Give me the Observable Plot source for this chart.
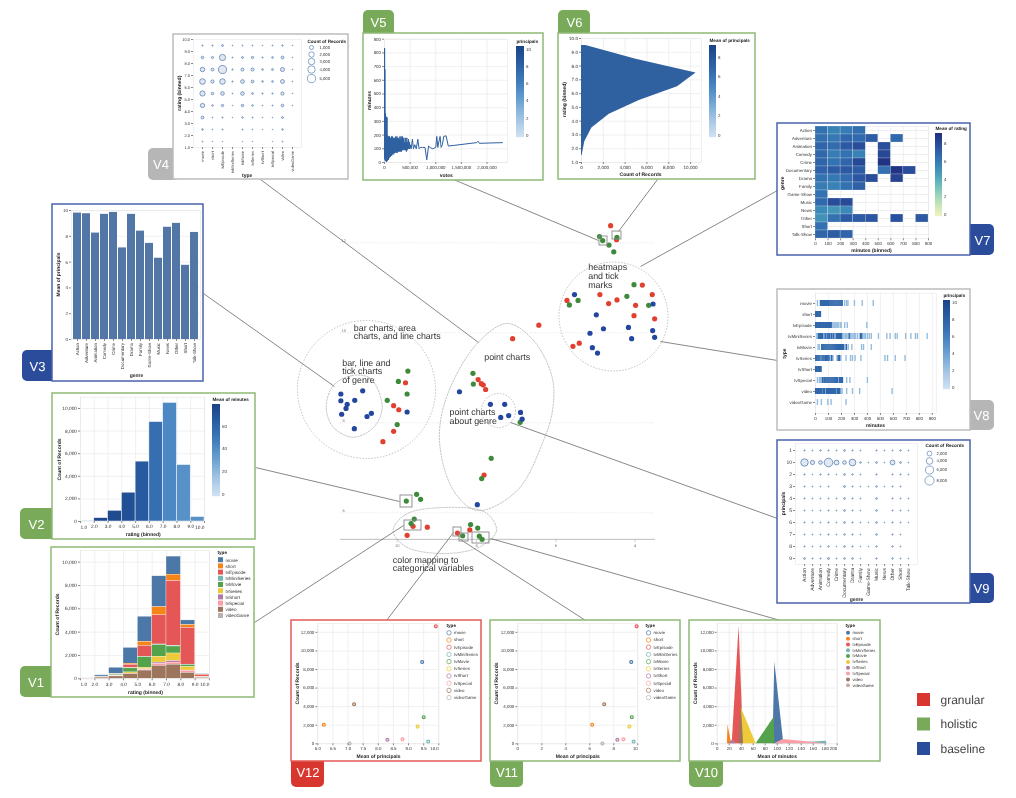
<!DOCTYPE html>
<html><head><meta charset="utf-8">
<script src="https://cdn.jsdelivr.net/npm/d3@7"></script>
<script src="https://cdn.jsdelivr.net/npm/@observablehq/plot@0.6"></script>
<style>
html,body{margin:0;padding:0;background:#fff}
#stage{position:relative;width:1016px;height:798px;overflow:hidden;background:#fff;filter:blur(0.3px)}
#stage svg{position:absolute;max-width:none}
#stage text{text-rendering:geometricPrecision}
</style></head><body><div id="stage"></div>
<script>
// ---------- shared categories ----------
const types = ["movie","short","tvEpisode","tvMiniSeries","tvMovie","tvSeries","tvShort","tvSpecial","video","videoGame"];
const typeColors = ["#4c78a8","#f58518","#e45756","#72b7b2","#54a24b","#eeca3b","#b279a2","#ff9da6","#9d755d","#bab0ac"];
const genres = ["Action","Adventure","Animation","Comedy","Crime","Documentary","Drama","Family","Game-Show","Music","News","Other","Short","Talk-Show"];
const ratingBins = [1.5,2.5,3.5,4.5,5.5,6.5,7.5,8.5,9.5];

// ---------- centre projection (x and y are the projected coordinates) ----------
const redX = [4.62,4.47,5.72,3.82,4.89,3.57,4.67,4.46,3.99,4.03,3.51,5.57,5.41,6.43,7.09,9.79,10.09,9.96,10.09,10.36,7.96,7.88,7.83,7.77,7.81,9.60,9.24,9.75,8.48,8.17];
const redY = [12.38,12.07,10.72,11.06,10.85,10.85,10.65,10.73,10.61,10.38,10.31,9.70,9.77,10.17,9.87,8.89,8.38,8.29,7.81,7.58,8.96,8.87,8.84,8.74,6.84,5.70,5.68,5.50,5.55,5.62];
const greenX = [4.90,4.82,4.46,4.66,4.54,4.03,5.44,5.66,4.21,3.66,8.09,8.08,9.73,9.97,9.75,10.25,10.0,6.90,7.63,7.87,9.51,9.41,9.77,9.57,9.65,8.35,8.15,7.97,7.93,7.86];
const greenY = [12.14,12.05,12.12,11.95,11.80,11.07,10.72,10.62,10.81,10.61,9.10,8.86,9.15,8.92,8.64,8.50,7.96,8.01,7.21,6.76,6.41,6.30,6.26,5.86,5.76,5.49,5.74,5.66,5.48,5.41];
const blueX = [5.53,3.55,4.98,4.80,5.14,4.17,3.56,4.09,3.51,5.08,4.95,8.43,7.65,7.29,6.89,6.85,7.39,7.19,11.42,11.42,11.26,11.29,11.07,10.87,11.40,10.76,10.65,11.08,9.75,7.98];
const blueY = [10.85,10.64,10.40,10.09,9.99,10.12,10.05,9.87,9.90,9.67,9.55,8.69,8.41,8.41,8.23,8.08,8.12,8.16,8.64,8.49,8.41,8.32,8.50,8.71,8.19,8.14,8.21,7.87,8.24,6.18];

// ---------- counts by rating bin (rows) and type (columns) ----------
const ratingType = {
  1.5:[15,2,2,0,2,1,0,1,15,0],
  2.5:[110,8,40,0,30,10,1,2,100,0],
  3.5:[550,15,40,3,100,30,3,5,200,0],
  4.5:[1350,100,300,6,350,100,10,30,400,3],
  5.5:[2150,350,950,15,900,150,50,50,700,6],
  6.5:[2650,700,2500,50,1000,500,130,150,1100,10],
  7.5:[1550,550,5550,60,600,650,130,180,1200,8],
  8.5:[390,250,3150,30,180,300,50,150,500,5],
  9.5:[40,40,180,8,20,20,6,20,70,4]
};
const ratingTotals = [60,300,950,2550,5300,8800,10500,5000,400];
const ratingMinutes = [36,76,75,72,66,55,43,39,39];

// ---------- V3 ----------
const genrePrincipals = [9.8,9.75,8.25,9.7,9.85,7.1,9.7,8.4,7.45,6.3,8.7,9,5.75,8.3];

// ---------- V5: votes (thousands), minutes ----------
const votesMinutes = [[0,110],[2,835],[4,30],[7,680],[10,20],[13,360],[16,10],[19,350],[22,20],[25,340],[28,10],[31,330],[34,20],[37,200],[40,5],[43,190],[46,20],[49,330],[52,10],[55,200],[58,30],[61,190],[64,20],[67,180],[70,30],[73,190],[76,20],[79,170],[82,40],[85,190],[88,30],[91,170],[94,40],[97,190],[100,40],[104,180],[108,50],[112,170],[116,40],[120,180],[124,50],[128,170],[132,60],[136,190],[140,50],[145,170],[150,60],[155,190],[160,60],[165,170],[170,70],[175,180],[180,60],[185,170],[190,70],[195,180],[200,70],[206,170],[212,80],[218,190],[224,70],[230,170],[236,80],[242,190],[248,70],[254,180],[260,80],[266,170],[272,80],[278,180],[284,90],[290,170],[296,80],[302,190],[308,80],[314,170],[320,90],[326,190],[332,80],[338,160],[344,90],[350,190],[356,90],[362,160],[368,100],[374,180],[380,90],[388,150],[396,90],[404,180],[412,90],[420,150],[428,80],[436,180],[444,90],[452,150],[460,100],[468,170],[476,100],[484,150],[492,100],[500,130],[520,100],[545,170],[565,100],[590,130],[620,100],[650,170],[675,100],[700,110],[740,110],[790,110],[825,20],[860,120],[890,110],[940,100],[1000,110],[1020,190],[1040,110],[1060,150],[1085,190],[1105,110],[1130,130],[1155,190],[1200,195],[1245,120],[1800,145],[1825,155],[1850,140],[2300,145]];

// ---------- V7: genre -> [bin start, mean rating] ----------
const genreMinutes = {
  "Action":[[0,6.5],[100,5.8],[200,6.0],[300,6.6]],
  "Adventure":[[0,6.6],[100,6.2],[200,6.9],[300,6.8],[400,7.3],[600,6.8]],
  "Animation":[[0,7],[100,6.7],[200,7.5],[300,8],[500,7.9]],
  "Comedy":[[0,6.9],[100,6.0],[200,6.5],[300,5.8],[500,8.2]],
  "Crime":[[0,7],[100,6.4],[200,7],[300,8.2],[500,9]],
  "Documentary":[[0,7.1],[100,7.4],[200,7.5],[300,7.4],[500,6.5],[600,9],[700,8]],
  "Drama":[[0,6.4],[100,6.2],[200,6.7],[300,7.6],[400,8],[600,8.4]],
  "Family":[[0,6],[100,5.8],[200,6.5],[300,7.2]],
  "Game-Show":[[0,6.4]],
  "Music":[[0,6.8],[100,8],[200,8.1]],
  "News":[[0,5.5],[100,5],[200,5.5]],
  "Other":[[0,5.2],[100,6.5],[200,7.4],[300,7.4],[400,7.6],[600,7.8],[800,7.5]],
  "Short":[[0,6.5]],
  "Talk-Show":[[0,7],[100,7.4],[200,7]]
};

// ---------- V8: minutes of tick marks per type, strong and faint ----------
const ticksStrong = {
  movie:[38,46,54,62,70,78,86,94,102,110,118,126,134,142,150,158,166,174,182,190,198,206],
  short:[2,8,14,20,26,32,38],
  tvEpisode:[1,7,13,19,25,31,37,43,49,55,61,67,73,79,85,91,97,103,109,115,121],
  tvMiniSeries:[22,30,38,46,54,75,90,98,110,125,140,160,168,176,184,192,200,260,345,355],
  tvMovie:[48,56,64,72,80,88,96,104,112,120,128,136,144,152,160,168,176,184,192,200,208,216,238],
  tvSeries:[2,10,18,26,34,50,58,66,78,84,90,96,104,125,175,185],
  tvShort:[1,7,13,19,25,31,37,43],
  tvSpecial:[55,65,72,80,88,96,104,112,120,128,136,144,152,160,168,185,192,200,208],
  video:[1,8,16,24,32,40,48,60,68,84,92,100,108,116,124,132,140,148,156,170,178,186],
  videoGame:[]
};
const ticksFaint = {
  movie:[15,225,240,250,300,360,445],
  short:[],
  tvEpisode:[127,135,143,151,159,167,175,190,198,225,245,395],
  tvMiniSeries:[10,62,68,82,105,118,132,150,210,220,230,240,250,270,280,290,300,310,325,365,375,385,400,415,430,485,550,575,615,630,695,735,770,785,860],
  tvMovie:[20,30,228,252,280,355,370,430],
  tvSeries:[42,72,112,118,135,165,195,235,270,285,305,350,535,555,615,690],
  tvShort:[],
  tvSpecial:[15,30,40,48,178,240,265,400],
  video:[55,75,164,195,205,240,285,340,590],
  videoGame:[15,45,95,120,235]
};

// ---------- V9: counts by principals (rows) and genre (columns) ----------
const principalOrder = ["1","10","2","3","4","5","6","7","8","9"];
const principalGenre = {
  "1":[60,30,90,50,40,200,60,30,0,60,25,40,100,25],
  "10":[5900,1700,1200,8000,2300,1200,4700,150,20,200,15,2300,200,20],
  "2":[70,15,80,50,20,180,90,30,0,70,0,50,60,30],
  "3":[50,30,30,40,0,220,60,20,8,130,15,60,40,0],
  "4":[50,30,30,40,40,200,60,30,0,170,0,50,40,25],
  "5":[40,15,30,60,25,180,50,20,0,140,0,60,40,15],
  "6":[50,40,30,70,30,180,70,25,15,170,15,70,40,15],
  "7":[40,25,25,70,25,130,70,15,0,150,0,70,30,0],
  "8":[50,25,40,110,15,150,70,15,8,100,0,90,30,0],
  "9":[190,50,60,260,40,150,150,10,0,90,0,120,40,10]
};

// ---------- V10: outline of each type's area ----------
const typeAreas = {
  movie:[[93,0],[96,8800],[111,0]],
  short:[[17,0],[18,2050],[24,0]],
  tvEpisode:[[25,0],[36.5,12650],[44,0]],
  tvMiniSeries:[[111,0],[182,280],[183,0]],
  tvMovie:[[65,0],[95,2850],[96,0]],
  tvSeries:[[38,0],[40,3900],[65,0]],
  tvShort:[[19,0],[26,430],[33,0]],
  tvSpecial:[[96,0],[110,470],[183,0]],
  video:[[36,0],[40,4250],[44,0]],
  videoGame:[[40,0],[41,30],[42,0]]
};

// ---------- V11 / V12 ----------
const typeMeanPrincipals = [9.45,6.2,9.9,9.65,9.5,9.3,8.3,8.8,7.2,7.05];
const typeCounts = [8800,2050,12650,250,2850,1850,430,480,4250,30];

// ---------- look ----------
const FONT = "'Liberation Sans',Arial,sans-serif";
const blues = d3.interpolateRgbBasis(["#d2e2f3","#a5c6e4","#6aa2d2","#3f7dbd","#2a5fa5","#1b4488"]);
const ygb = d3.interpolateRgbBasis(["#f0f5bf","#c0e3b5","#7cc8bb","#46a0bb","#3579b5","#2c55a3","#1f2f7e"]);
const GREEN="#79aa59", BLUE="#2b4b9b", RED="#d8372f", GRAY="#b6b6b6";
const GREENL="#8fb977", BLUEL="#4b63ad", REDL="#e35a56", GRAYL="#bdbdbd";
const fmt = d3.format(",");

const stage = document.getElementById("stage");
function place(svg,x,y){svg.style.left=x+"px";svg.style.top=y+"px";stage.appendChild(svg);}
const axisStyle = {tickSize:2,tickPadding:1.5,stroke:"#888",fill:"#333",label:null};
const gridStyle = {stroke:"#e6e6e6",strokeOpacity:1,strokeWidth:0.6};

function panel(f,a,fs,opts,marks){
  const svg = Plot.plot({
    width:f[1]-f[0],height:f[3]-f[2],
    marginLeft:a[0]-f[0],marginRight:f[1]-a[1],marginTop:a[2]-f[2],marginBottom:f[3]-a[3],
    style:{fontFamily:FONT,fontSize:fs+"px",background:"transparent",overflow:"visible"},
    ...opts,marks});
  place(svg,f[0],f[2]);
}
function edgeLabels(labels,dy){ // flush tick labels at the two ends of a band-less x axis
  return labels.map(([v,t,anchor])=>Plot.text([v],{x:d=>d,text:()=>t,frameAnchor:"bottom",dy,textAnchor:anchor,fill:"#333"}));
}
const outline = {stroke:"#e6e6e6",strokeWidth:0.6};

// ---------- layer 1: centre scatter ----------
const centre = [
  ...redX.map((x,i)=>({x,y:redY[i],c:"granular"})),
  ...greenX.map((x,i)=>({x,y:greenY[i],c:"holistic"})),
  ...blueX.map((x,i)=>({x,y:blueY[i],c:"baseline"}))
];
const gridYs=[12,10,8,6], axisXs=[10,8,6,4];
place(Plot.plot({
  width:1016,height:798,margin:0,
  x:{domain:[20,-5.612],range:[0,1016],axis:null},
  y:{domain:[17.384,-0.349],range:[0,798],axis:null},
  color:{domain:["granular","holistic","baseline"],range:["#e2402f","#3c8a3a","#23479f"]},
  style:{fontFamily:FONT,background:"transparent"},
  marks:[
    Plot.ruleY(gridYs,{x1:()=>11.43,x2:()=>3.49,stroke:"#ccc",strokeDasharray:"1,1.5",strokeWidth:0.5}),
    Plot.ruleY([5.41],{x1:()=>11.43,x2:()=>3.49,stroke:"#bdbdbd",strokeWidth:1}),
    Plot.ruleX(axisXs,{x:d=>d,y1:()=>5.41,y2:()=>5.33,stroke:"#bbb",strokeWidth:0.6}),
    Plot.text(axisXs,{x:d=>d,y:()=>5.26,text:d=>String(d),fontSize:4,fill:"#777"}),
    Plot.text(gridYs,{x:()=>11.35,y:d=>d+0.05,text:d=>String(d),fontSize:4,fill:"#777"}),
    Plot.dot(centre,{x:"x",y:"y",fill:"c",r:2.6})
  ]
}),0,0);

// ---------- layer 2: page furniture ----------
const panelsLayout = [
  {name:"V1",f:[51,254,547,697],tab:[20,57,666,697],c:GREEN,l:GREENL,tx:35.5,ty:682},
  {name:"V2",f:[52,255,393,539],tab:[20,58,508,539],c:GREEN,l:GREENL,tx:36,ty:524},
  {name:"V3",f:[52,203,204,381],tab:[22,58,350,381],c:BLUE,l:BLUEL,tx:37,ty:366},
  {name:"V4",f:[173,348,34,179],tab:[148,179,148,180],c:GRAY,l:GRAYL,tx:160.5,ty:164},
  {name:"V5",f:[363,543,33,180],tab:[363,394,10,39],c:GREEN,l:GREENL,tx:378,ty:22},
  {name:"V6",f:[558,755,33,179],tab:[558,590,10,39],c:GREEN,l:GREENL,tx:574,ty:22},
  {name:"V7",f:[777,970,123,255],tab:[964,994,224,255],c:BLUE,l:BLUEL,tx:982,ty:240},
  {name:"V8",f:[777,970,289,430],tab:[964,994,400,430],c:GRAY,l:GRAYL,tx:981,ty:415},
  {name:"V9",f:[777,970,440,603],tab:[964,994,573,603],c:BLUE,l:BLUEL,tx:981,ty:588},
  {name:"V10",f:[689,880,620,761],tab:[689,723,755,787],c:GREEN,l:GREENL,tx:706,ty:772},
  {name:"V11",f:[490,680,620,761],tab:[490,523,755,787],c:GREEN,l:GREENL,tx:506.5,ty:772},
  {name:"V12",f:[291,481,620,761],tab:[291,324,755,787],c:RED,l:REDL,tx:307.5,ty:772}
];
const connectors = [
  [260,179,478,342],[453,179,598,240],[657,179,618,231],[777,190,640,266],
  [660,341,777,360],[510,422,777,518],[203,293,334,386],[255,467,399,501],
  [254,622,403,525],[386,620,453,532],[585,620,460,539],[780,620,490,538]
];
const selected = [
  [599,607,236,245],[612,621,231,239],[400,412,495,507],[404,421,520,530],
  [453,461,527,536],[459,468,533,541],[472,489,532,543]
];
const circles = [[366,389,69],[613,316,54.5],[498,410,17]];
const blobs = [
  [[333,385],[352,375],[370,378],[381.7,406.7],[373,427],[353,436.7],[333,427],[325.7,406.7]],
  [[506.7,323],[533,340],[551.7,377],[552,410],[543,440],[516.7,490],[477,510],[453,490],[439,440],[446.7,395],[476.7,343]],
  [[392.7,530],[405,514],[444,507],[485,512],[496,530],[480,546],[444,553],[405,546]]
].flatMap((pts,k)=>pts.map(p=>({x:p[0],y:p[1],k})));
const tags = [
  ["bar charts, area",353.3,327.5],["charts, and line charts",353.3,336],
  ["bar, line and",341.7,362.3],["tick charts",341.7,371],["of genre",341.7,379.7],
  ["heatmaps",587.7,267],["and tick",587.7,275.7],["marks",587.7,284.3],
  ["point charts",483.7,357],["point charts",449,411.7],["about genre",449,420.3],
  ["color mapping to",392.3,559.3],["categorical variables",392.3,568]
];
const keyNames = ["granular","holistic","baseline"];
const keyColors = [RED,GREEN,BLUE];
const keyRows = [699.5,724,748.5];
const pageScales = {
  width:1016,height:798,margin:0,
  x:{domain:[0,1016],range:[0,1016],axis:null},
  y:{domain:[0,798],range:[0,798],axis:null},
  color:{type:"identity"},
  r:{type:"identity"}
};
place(Plot.plot({...pageScales,style:{fontFamily:FONT,background:"transparent"},marks:[
  Plot.link(connectors,{x1:d=>d[0],y1:d=>d[1],x2:d=>d[2],y2:d=>d[3],stroke:"#555",strokeWidth:0.7}),
  Plot.dot(circles,{x:d=>d[0],y:d=>d[1],r:d=>d[2],stroke:"#999",fill:"none",strokeDasharray:"1.5,1.5",strokeWidth:0.6}),
  Plot.line(blobs,{x:"x",y:"y",z:"k",curve:"catmull-rom-closed",stroke:"#999",strokeDasharray:"1.5,1.5",strokeWidth:0.6}),
  Plot.rect(selected,{x1:d=>d[0],x2:d=>d[1],y1:d=>d[2],y2:d=>d[3],stroke:"#888",fill:"none",strokeWidth:0.9}),
  Plot.text(tags,{x:d=>d[1],y:d=>d[2],text:d=>d[0],textAnchor:"start",fontSize:8.9,fill:"#333"}),
  Plot.rect(panelsLayout,{x1:d=>d.tab[0],x2:d=>d.tab[1],y1:d=>d.tab[2],y2:d=>d.tab[3],fill:d=>d.c,rx:5}),
  Plot.rect(panelsLayout,{x1:d=>d.f[0],x2:d=>d.f[1],y1:d=>d.f[2],y2:d=>d.f[3],fill:"#fff",stroke:d=>d.l,strokeWidth:1.5}),
  Plot.text(panelsLayout,{x:"tx",y:"ty",text:"name",fontSize:13,fill:"#fff"}),
  Plot.rect(keyNames,{x1:()=>917,x2:()=>930,y1:(d,i)=>keyRows[i]-6.5,y2:(d,i)=>keyRows[i]+6.5,fill:(d,i)=>keyColors[i]}),
  Plot.text(keyNames,{x:()=>940,y:(d,i)=>keyRows[i],text:d=>d,textAnchor:"start",fontSize:12,fill:"#444"})
]}),0,0);

// ---------- layer 3: the twelve small charts ----------
const ratingRows = ratingBins.flatMap(r=>types.map((t,i)=>({rating:r,type:t,count:ratingType[r][i],x1:r-0.5,x2:r+0.5})));
const binRows = ratingBins.map((r,i)=>({rating:r,x1:r-0.5,x2:r+0.5,count:ratingTotals[i],minutes:ratingMinutes[i]}));
const tenTicks = d3.range(1,11);
const oneDec = d=>d.toFixed(1);
const innerDec = d=>(d===1||d===10)?"":d.toFixed(1);
const countTicks = [0,2000,4000,6000,8000,10000];
const count12 = [0,2000,4000,6000,8000,10000,12000];

// V1
panel([51,254,547,697],[80,209,550,678.3],4.8,{
  x:{domain:[1,10]},y:{domain:[0,11000]},
  color:{domain:types,range:typeColors}
},[
  Plot.gridX(tenTicks,gridStyle),Plot.gridY(countTicks,gridStyle),Plot.frame(outline),
  Plot.rect(ratingRows,Plot.stackY({x:"x1",x1:"x1",x2:"x2",y:"count",z:"type",fill:"type",stroke:"#fff",strokeWidth:0.3,order:[...types].reverse()})),
  Plot.axisX({ticks:tenTicks,tickFormat:innerDec,...axisStyle}),
  Plot.axisY({ticks:countTicks,tickFormat:fmt,...axisStyle}),
  ...edgeLabels([[1,"1.0","start"],[10,"10.0","end"]],7)
]);
// V2
panel([52,255,393,539],[80,204,396.7,521],4.8,{
  x:{domain:[1,10]},y:{domain:[0,11000]},
  color:{type:"linear",domain:[0,79],interpolate:blues}
},[
  Plot.gridX(tenTicks,gridStyle),Plot.gridY(countTicks,gridStyle),Plot.frame(outline),
  Plot.rect(binRows,{x1:"x1",x2:"x2",y1:()=>0,y2:"count",fill:"minutes",stroke:"#fff",strokeWidth:0.5}),
  Plot.axisX({ticks:tenTicks,tickFormat:innerDec,...axisStyle}),
  Plot.axisY({ticks:countTicks,tickFormat:fmt,...axisStyle}),
  ...edgeLabels([[1,"1.0","start"],[10,"10.0","end"]],7)
]);
// V3
panel([52,203,204,381],[71,200,210,339],4.4,{
  x:{domain:genres,padding:0.08},y:{domain:[0,10]}
},[
  Plot.gridY([0,2,4,6,8,10],gridStyle),Plot.frame(outline),
  Plot.barY(genres,{x:d=>d,y:(d,i)=>genrePrincipals[i],fill:"#5277a6"}),
  Plot.axisX({tickRotate:-90,...axisStyle}),
  Plot.axisY({ticks:[0,2,4,6,8,10],...axisStyle})
]);
// V4
const bubbleFill = {stroke:"#5a82b4",fill:"#5a82b4",fillOpacity:0.18,strokeWidth:0.8};
panel([173,348,34,179],[193,301,39,147],4,{
  x:{domain:types,type:"point"},y:{domain:[1,10]},
  r:{type:"sqrt",domain:[0,5500],range:[0.25,4]}
},[
  Plot.frame(outline),
  Plot.dot(ratingRows.filter(d=>d.count>0),{x:"type",y:"rating",r:"count",...bubbleFill}),
  Plot.axisX({tickRotate:-90,...axisStyle}),
  Plot.axisY({ticks:tenTicks,tickFormat:oneDec,...axisStyle})
]);
// V5
panel([363,543,33,180],[384,507,38.7,162],4.4,{
  x:{domain:[0,2400]},y:{domain:[0,900]}
},[
  Plot.gridX([0,500,1000,1500,2000],gridStyle),Plot.gridY(d3.range(0,901,100),gridStyle),Plot.frame(outline),
  Plot.line(votesMinutes,{x:d=>d[0],y:d=>d[1],stroke:"#2f609f",strokeWidth:1}),
  Plot.axisX({ticks:[0,500,1000,1500,2000],tickFormat:d=>fmt(d*1000),...axisStyle}),
  Plot.axisY({ticks:d3.range(0,901,100),...axisStyle})
]);
// V6
panel([558,755,33,179],[581,701,38,162],4.6,{
  x:{domain:[0,11000]},y:{domain:[1,10]}
},[
  Plot.gridX(countTicks,gridStyle),Plot.gridY(tenTicks,gridStyle),Plot.frame(outline),
  Plot.areaX(binRows,{y:"rating",x1:()=>0,x2:"count",fill:"#2f609f"}),
  Plot.axisX({ticks:countTicks,tickFormat:fmt,...axisStyle}),
  Plot.axisY({ticks:tenTicks,tickFormat:oneDec,...axisStyle})
]);
// V7
const heatRows = genres.flatMap(g=>genreMinutes[g].map(([m,v])=>({genre:g,x1:m,x2:m+100,v})));
panel([777,970,123,255],[815,928,126,238.3],4.4,{
  x:{domain:[0,900]},y:{domain:genres,padding:0},
  color:{type:"linear",domain:[0,9.2],interpolate:ygb}
},[
  Plot.gridX(d3.range(0,901,100),gridStyle),Plot.gridY(genres,gridStyle),Plot.frame(outline),
  Plot.barX(heatRows,{x1:"x1",x2:"x2",y:"genre",fill:"v",stroke:"#fff",strokeOpacity:0.5,strokeWidth:0.4}),
  Plot.axisX({ticks:d3.range(0,901,100),...axisStyle}),
  Plot.axisY({...axisStyle})
]);
// V8
const tickRows = types.flatMap(t=>[
  ...ticksFaint[t].map(m=>({type:t,m,p:2.5})),
  ...ticksStrong[t].map(m=>({type:t,m,p:7.5}))
]);
panel([777,970,289,430],[815,935.7,292.7,413],4.4,{
  x:{domain:[0,930]},y:{domain:types,padding:0.42},
  color:{type:"linear",domain:[0,10],interpolate:blues}
},[
  Plot.gridX(d3.range(0,901,100),gridStyle),Plot.frame(outline),
  Plot.tickX(tickRows,{x:"m",y:"type",stroke:"p",strokeWidth:1.4}),
  Plot.axisX({ticks:d3.range(0,901,100),...axisStyle}),
  Plot.axisY({...axisStyle})
]);
// V9
const bubbleRows = principalOrder.flatMap(p=>genres.map((g,i)=>({p,g,count:principalGenre[p][i]}))).filter(d=>d.count>0);
panel([777,970,440,603],[795,917,443,564],5,{
  x:{domain:genres,type:"point"},y:{domain:principalOrder,type:"point"},
  r:{type:"sqrt",domain:[0,8000],range:[0.25,4.3]}
},[
  Plot.frame(outline),
  Plot.dot(bubbleRows,{x:"g",y:"p",r:"count",...bubbleFill}),
  Plot.axisX({tickRotate:-90,...axisStyle}),
  Plot.axisY({...axisStyle})
]);
// V10
const areaRows = types.flatMap(t=>typeAreas[t].map(([x,y])=>({type:t,x,y})));
const minuteTicks = d3.range(0,201,20);
panel([689,880,620,761],[716.7,836.7,623,743.3],4.4,{
  x:{domain:[0,200]},y:{domain:[0,12950]},
  color:{domain:types,range:typeColors}
},[
  Plot.gridX(minuteTicks,gridStyle),Plot.gridY(count12,gridStyle),Plot.frame(outline),
  Plot.areaY(areaRows,{x:"x",y1:()=>0,y2:"y",fill:"type",z:"type"}),
  Plot.axisX({ticks:minuteTicks,tickFormat:d=>d===200?"":String(d),...axisStyle}),
  Plot.axisY({ticks:count12,tickFormat:fmt,...axisStyle}),
  ...edgeLabels([[200,"200","end"]],6.5)
]);
// V11, V12
const typePoints = types.map((t,i)=>({type:t,p:typeMeanPrincipals[i],c:typeCounts[i]}));
function ringChart(f,a,dom,ticks,tf,edge){
  panel(f,a,4.4,{x:{domain:dom},y:{domain:[0,12950]},color:{domain:types,range:typeColors}},[
    Plot.gridX(ticks,gridStyle),Plot.gridY(count12,gridStyle),Plot.frame(outline),
    Plot.dot(typePoints,{x:"p",y:"c",stroke:"type",fill:"type",fillOpacity:0.3,r:1.5,strokeWidth:1.1}),
    Plot.axisX({ticks,tickFormat:tf,...axisStyle}),
    Plot.axisY({ticks:count12,tickFormat:fmt,...axisStyle}),
    ...edgeLabels(edge,6.5)
  ]);
}
ringChart([490,680,620,761],[517.3,637.3,623,743.3],[0,10],[0,2,4,6,8,10],d=>d===10?"":String(d),[[10,"10","end"]]);
ringChart([291,481,620,761],[317.3,438.3,623,743.3],[6,10],[6,6.5,7,7.5,8,8.5,9,9.5,10],d=>d===10?"":d.toFixed(1),[[10,"10.0","end"]]);

// ---------- layer 4: axis titles and legends ----------
const xTitles = [
  ["rating (binned)",145,691.7],["rating (binned)",142.7,533.7],["genre",136,375],["type",246.7,174.7],
  ["votes",445.7,175],["Count of Records",640,174],["minutes (binned)",871,250],["minutes",875,425],
  ["genre",856,599],["Mean of minutes",776.7,755.7],["Mean of principals",577.3,755.7],["Mean of principals",378,755.7]
];
const yTitles = [
  ["Count of Records",57.3,614],["Count of Records",58.7,459],["Mean of principals",58.3,274],["rating (binned)",179,92.7],
  ["minutes",369,100],["rating (binned)",564.3,99],["genre",782,182.7],["type",784,353],
  ["principals",783,503],["Count of Records",695,682.7],["Count of Records",496,683],["Count of Records",296.7,683]
];
const legendTitles = [
  ["type",217,552],["Mean of minutes",212,399],["Count of Records",307,41],["principals",516,41],
  ["Mean of principals",709,40],["Mean of rating",935,128],["principals",943,295],["Count of Records",925,445],
  ["type",845,625],["type",645,625],["type",446,625]
];
const ramps = [
  {x:212,w:8,t:404,b:496,dom:[0,79],ticks:[0,20,40,60],fn:blues},
  {x:516,w:8,t:46,b:137,dom:[0,10.3],ticks:[0,2,4,6,8,10],fn:blues},
  {x:709,w:7,t:45,b:137,dom:[0,9.2],ticks:[0,2,4,6,8],fn:blues},
  {x:935,w:7,t:133,b:216,dom:[0,9.2],ticks:[0,2,4,6,8],fn:ygb},
  {x:943,w:7,t:300,b:389,dom:[0,10.3],ticks:[0,2,4,6,8,10],fn:blues}
];
const rampCells = ramps.flatMap(r=>d3.range(r.t,r.b).map(y=>({x1:r.x,x2:r.x+r.w,y1:y,y2:y+1.2,c:r.fn((r.b-y)/(r.b-r.t))})));
const rampTicks = ramps.flatMap(r=>r.ticks.map(v=>({x:r.x+r.w+1.5,y:r.b-2-(v/r.dom[1])*(r.b-r.t-2),v})));
const swatchTop = {x:218,w:5,top:559.7,step:6.2,tx:225};
const swatches = types.map((t,i)=>({t,c:typeColors[i],y:swatchTop.top+i*swatchTop.step}));
const dotKey = types.map((t,i)=>({t,c:typeColors[i],y:632.3+i*5.83}));
const ringKeys = [{x:648,tx:653},{x:448.5,tx:453.5}];
const ringKey = ringKeys.flatMap(k=>types.map((t,i)=>({t,c:typeColors[i],x:k.x,tx:k.tx,y:632.3+i*7.2})));
const sizeV4 = d3.scaleSqrt().domain([0,5500]).range([0,4]);
const sizeV9 = d3.scaleSqrt().domain([0,8000]).range([0,4.3]);
const sizeKey = [
  ...[[1000,47],[2000,54],[3000,61],[4000,69],[5000,78]].map(([v,y])=>({v,y,x:311,tx:319,r:sizeV4(v)+0.3})),
  ...[[2000,453],[4000,460.5],[6000,469.5],[8000,480]].map(([v,y])=>({v,y,x:929,tx:936,r:sizeV9(v)+0.3}))
];
place(Plot.plot({...pageScales,style:{fontFamily:FONT,background:"transparent"},marks:[
  Plot.rect(rampCells,{x1:"x1",x2:"x2",y1:"y1",y2:"y2",fill:"c"}),
  Plot.text(rampTicks,{x:"x",y:"y",text:d=>String(d.v),textAnchor:"start",fontSize:4.4,fill:"#333"}),
  Plot.text(xTitles,{x:d=>d[1],y:d=>d[2],text:d=>d[0],fontSize:5,fontWeight:"bold",fill:"#222"}),
  Plot.text(yTitles,{x:d=>d[1],y:d=>d[2],text:d=>d[0],fontSize:5,fontWeight:"bold",fill:"#222",rotate:-90}),
  Plot.text(legendTitles,{x:d=>d[1],y:d=>d[2],text:d=>d[0],textAnchor:"start",fontSize:4.6,fontWeight:"bold",fill:"#222"}),
  Plot.rect(swatches,{x1:()=>swatchTop.x,x2:()=>swatchTop.x+swatchTop.w,y1:d=>d.y-2.5,y2:d=>d.y+2.5,fill:"c"}),
  Plot.text(swatches,{x:()=>swatchTop.tx,y:"y",text:"t",textAnchor:"start",fontSize:4.6,fill:"#333"}),
  Plot.dot(dotKey,{x:()=>847.5,y:"y",r:()=>2,fill:"c"}),
  Plot.text(dotKey,{x:()=>852,y:"y",text:"t",textAnchor:"start",fontSize:4.2,fill:"#333"}),
  Plot.dot(ringKey,{x:"x",y:"y",r:()=>2.2,stroke:"c",fill:"#fff",strokeWidth:0.7}),
  Plot.text(ringKey,{x:"tx",y:"y",text:"t",textAnchor:"start",fontSize:4.4,fill:"#333"}),
  Plot.dot(sizeKey,{x:"x",y:"y",r:"r",stroke:"#5a82b4",fill:"none",strokeWidth:0.7}),
  Plot.text(sizeKey,{x:"tx",y:"y",text:d=>fmt(d.v),textAnchor:"start",fontSize:4.2,fill:"#333"})
]}),0,0);
</script></body></html>
